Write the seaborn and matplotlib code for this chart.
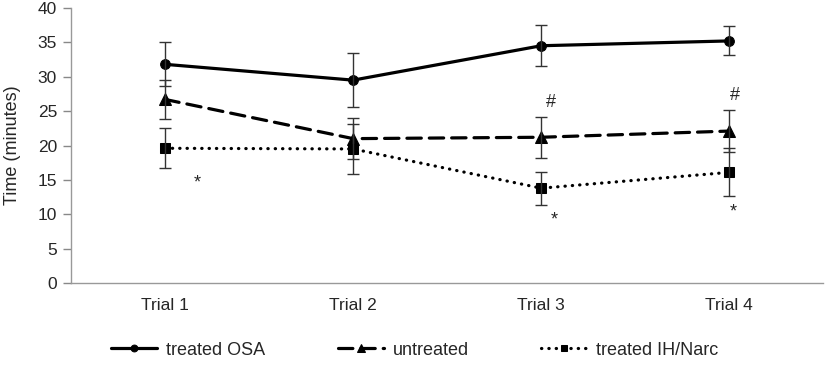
import pandas as pd
import seaborn as sns
import matplotlib.pyplot as plt

trials = ['Trial 1', 'Trial 2', 'Trial 3', 'Trial 4']

osa_mean = [31.8, 29.5, 34.5, 35.2]
osa_err = [3.2, 3.9, 3.0, 2.1]
untreated_mean = [26.7, 21.0, 21.2, 22.1]
untreated_err = [2.8, 3.0, 3.0, 3.1]
ihnarc_mean = [19.6, 19.5, 13.8, 16.1]
ihnarc_err = [2.9, 3.6, 2.4, 3.5]

# significance marks next to the points
marks_x = [0.17, 2.05, 2.07, 3.03, 3.02]
marks_y = [14.5, 26.3, 9.2, 27.3, 10.3]
marks_s = ['*', '#', '*', '#', '*']

sns.set_style('white')
plt.rcParams['font.family'] = ['Liberation Sans', 'DejaVu Sans']

fig, ax = plt.subplots(figsize=(8.25, 3.76), dpi=100)
fig.subplots_adjust(left=0.086, right=0.998, bottom=0.247, top=0.979)

x = list(range(len(trials)))
series = [
    ('treated OSA', osa_mean, osa_err, '-', 'o', 7),
    ('untreated', untreated_mean, untreated_err, (0, (4.5, 2.5)), '^', 8),
    ('treated IH/Narc', ihnarc_mean, ihnarc_err, (0, (0.1, 2.2)), 's', 7),
]

for name, mean, err, ls, mk, ms in series:
    df = pd.DataFrame({'x': x, 'y': mean})
    sns.lineplot(data=df, x='x', y='y', ax=ax, color='black', linewidth=2.3,
                 marker=mk, markersize=ms, label=name, markeredgecolor='black')
    ln = ax.lines[-1]
    ln.set_linestyle(ls)
    ln.set_dash_capstyle('round')
    ax.errorbar(x, mean, yerr=err, fmt='none', ecolor='#333333', elinewidth=1,
                capsize=4, capthick=1)

for mx, my, ms in zip(marks_x, marks_y, marks_s):
    ax.text(mx, my, ms, ha='center', va='center', fontsize=13)

ax.set_xlim(-0.5, 3.5)
ax.set_ylim(0, 40)
ax.set_yticks(range(0, 41, 5))
ax.set_xticks(x)
ax.set_xticklabels(trials)
ax.set_xlabel('')
ax.set_ylabel('Time (minutes)', fontsize=13, labelpad=12)
ax.tick_params(axis='both', labelsize=12.5)
ax.tick_params(axis='y', left=True, length=6, color='#888888', width=1, pad=4)
ax.tick_params(axis='x', bottom=False, pad=7)

sns.despine(ax=ax)
for sp in ['left', 'bottom']:
    ax.spines[sp].set_color('#999999')
    ax.spines[sp].set_linewidth(1)

ax.legend(loc='center', bbox_to_anchor=(0.503, 0.069), bbox_transform=fig.transFigure,
          ncol=3, frameon=False, handlelength=2.55, handletextpad=0.5,
          columnspacing=4.0, fontsize=13, markerscale=0.7)

plt.savefig('out.png', dpi=100)
